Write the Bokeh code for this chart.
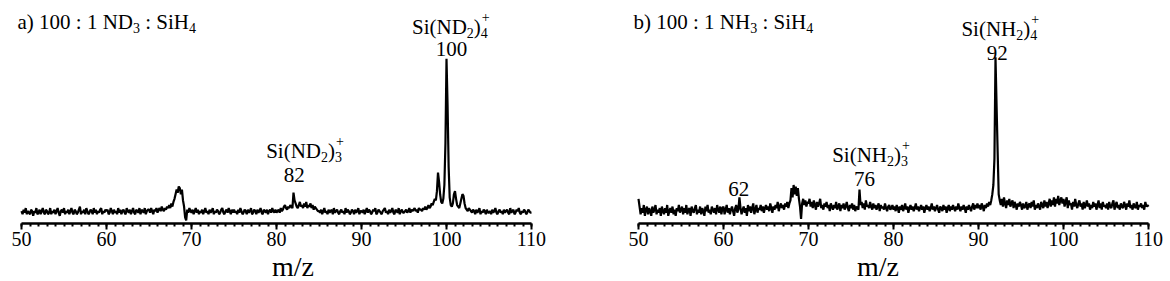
import numpy as np
from bokeh.plotting import figure
from bokeh.layouts import row
from bokeh.models import Range1d, FixedTicker, LinearAxis, Label, Title
from bokeh.embed import file_html
from bokeh.resources import INLINE

# ---------------- data ----------------
mz = np.arange(50, 110.001, 0.125)

int_a = [
    1, -1, 2, 0, 3, -1, 1, 0,        # 50
    -1, 2, 1, -2, 1, 0, 3, -1,       # 51
    0, 2, -1, 1, 3, 0, -1, 2,        # 52
    1, -1, 0, 3, -1, 1, 0, 2,        # 53
    -1, 1, 3, 0, -2, 1, 2, 0,        # 54
    3, -1, 1, 0, 2, -1, 1, 3,        # 55
    0, -1, 2, 1, -1, 0, 2, 4,        # 56
    -1, 1, 0, 2, -1, 3, 1, -1,       # 57
    0, 2, 1, -1, 3, 0, 2, -1,        # 58
    1, 0, 2, 3, -1, 1, 0, 2,         # 59
    1, 2, -1, 0, 3, 1, -1, 2,        # 60
    0, 1, -1, 3, 0, 2, -1, 1,        # 61
    2, 0, -1, 3, 1, 0, 2, -1,        # 62
    1, 3, 0, -1, 2, 1, 0, 3,         # 63
    -1, 2, 1, 0, 3, -1, 1, 2,        # 64
    2, 0, 3, 1, -1, 2, 1, 3,         # 65
    0, 2, 3, 1, 4, 2, 1, 3,          # 66
    2, 4, 3, 5, 3, 6, 4, 7,          # 67
    9, 12, 15, 13, 17, 16, 12, 15,   # 68
    8, 4, -3, -5, 2, 0, 3, 1,        # 69
    0, 2, -1, 1, 3, 0, 2, -1,        # 70
    1, 0, 2, -1, 1, 3, 0, 1,         # 71
    -1, 2, 0, 1, 3, -1, 1, 0,        # 72
    2, 1, -1, 0, 2, 3, 0, -1,        # 73
    1, 2, 0, 3, 1, -1, 2, 0,         # 74
    2, 0, 1, -1, 2, 0, 3, 1,         # 75
    -1, 0, 2, 1, -1, 2, 0, 1,        # 76
    3, -1, 0, 2, 1, -1, 2, 0,        # 77
    1, 3, 0, -1, 2, 1, 0, 2,         # 78
    -1, 1, 2, 0, 3, 1, 0, 2,         # 79
    0, 1, 2, 0, 3, 1, 2, 4,          # 80
    5, 3, 2, 4, 3, 5, 4, 3,          # 81
    13, 8, 6, 4, 3, 5, 7, 4,         # 82
    5, 3, 6, 4, 7, 3, 5, 4,          # 83
    6, 3, 5, 2, 4, 3, 2, 1,          # 84
    1, 0, 2, -1, 1, 3, 0, 1,         # 85
    -1, 2, 0, 1, 2, -1, 3, 0,        # 86
    1, 2, 0, -1, 1, 2, 0, 1,         # 87
    -1, 3, 0, 2, 1, -1, 0, 2,        # 88
    1, -1, 2, 0, 1, 3, -1, 1,        # 89
    1, 0, 2, -1, 1, 3, 0, 2,         # 90
    1, -1, 0, 2, 1, 3, -1, 0,        # 91
    2, 1, 0, -1, 1, 2, 3, 0,         # 92
    1, -1, 2, 0, 1, 3, 0, -1,        # 93
    2, 1, 0, 3, -1, 1, 2, 0,         # 94
    0, 1, 2, 0, 1, 3, 0, 2,          # 95
    1, 2, 3, 1, 2, 0, 3, 2,          # 96
    2, 1, 3, 2, 4, 2, 3, 5,          # 97
    3, 4, 6, 5, 7, 9, 8, 14,         # 98
    26, 20, 12, 7, 6, 9, 18, 45,     # 99
    100, 70, 30, 10, 5, 4, 6, 12,    # 100
    14, 9, 5, 4, 3, 6, 9, 12,        # 101
    11, 6, 3, 2, 1, 3, 2, 1,         # 102
    0, 2, 1, -1, 2, 0, 1, 3,         # 103
    -1, 1, 0, 2, 1, -1, 2, 0,        # 104
    0, 1, -1, 2, 0, 1, 3, 0,         # 105
    -1, 1, 2, 0, 1, -1, 2, 0,        # 106
    1, 2, 0, -1, 3, 0, 1, 2,         # 107
    -1, 0, 2, 1, 3, 0, -1, 1,        # 108
    0, 2, 1, -1, 0, 2, 1, 0,         # 109
    0,                               # 110
]

int_b = [
    9, 4, -1, 3, 0, 5, -2, 2,        # 50
    4, -1, 3, 1, -2, 4, 0, 2,        # 51
    5, -1, 2, 0, 3, -2, 4, 1,        # 52
    -1, 3, 0, 5, -2, 1, 3, 0,        # 53
    4, -1, 2, -2, 3, 1, 5, 0,        # 54
    2, 4, -1, 3, 0, 5, -1, 2,        # 55
    3, -2, 4, 1, 0, 3, 5, -1,        # 56
    2, 0, 4, -1, 3, 1, -2, 4,        # 57
    1, 5, 0, 2, -1, 4, 2, 0,         # 58
    3, -1, 5, 2, 0, 4, -1, 3,        # 59
    4, -1, 2, 5, 0, 3, -1, 2,        # 60
    4, 1, -2, 3, 5, 0, 2, 10,        # 61
    3, -1, 2, 4, 0, 3, -2, 5,        # 62
    1, 4, 0, 3, 6, -1, 2, 5,         # 63
    0, 3, 2, 5, 1, 4, 0, 3,          # 64
    5, 2, 4, 1, 6, 3, 0, 4,          # 65
    2, 5, 3, 7, 1, 4, 6, 3,          # 66
    5, 2, 6, 4, 7, 3, 6, 8,          # 67
    16, 10, 18, 12, 17, 11, 16, 9,   # 68
    4, -4, 6, 9, 5, 8, 4, 7,         # 69
    6, 9, 4, 7, 3, 8, 5, 2,          # 70
    7, 4, 6, 9, 3, 5, 2, 6,          # 71
    4, 7, 3, 5, 1, 6, 4, 2,          # 72
    5, 3, 7, 2, 4, 6, 1, 5,          # 73
    3, 6, 2, 4, 7, 3, 1, 5,          # 74
    3, 6, 2, 5, 1, 4, 3, 2,          # 75
    15, 5, 7, 3, 6, 2, 8, 4,         # 76
    5, 3, 7, 4, 2, 6, 3, 5,          # 77
    2, 4, 6, 1, 5, 3, 4, 2,          # 78
    6, 3, 1, 4, 5, 2, 3, 5,          # 79
    2, 4, 1, 5, 3, 0, 4, 2,          # 80
    5, 1, 3, 6, 2, 4, 0, 3,          # 81
    5, 2, 4, 1, 3, 6, 2, 4,          # 82
    1, 3, 5, 2, 4, 0, 3, 5,          # 83
    2, 4, 1, 3, 6, 2, 4, 1,          # 84
    3, 5, 2, 0, 4, 3, 1, 5,          # 85
    2, 4, 0, 3, 5, 1, 4, 2,          # 86
    5, 3, 1, 4, 2, 6, 3, 1,          # 87
    4, 2, 5, 3, 0, 4, 2, 5,          # 88
    3, 1, 4, 6, 2, 5, 3, 6,          # 89
    3, 5, 2, 6, 4, 1, 5, 3,          # 90
    6, 4, 7, 5, 8, 12, 18, 35,       # 91
    101, 70, 40, 12, 8, 5, 9, 4,     # 92
    10, 6, 3, 8, 5, 9, 4, 6,         # 93
    8, 3, 7, 5, 2, 6, 4, 7,          # 94
    5, 2, 6, 3, 4, 7, 2, 5,          # 95
    6, 3, 7, 4, 8, 2, 5, 3,          # 96
    6, 4, 2, 7, 5, 3, 8, 4,          # 97
    7, 3, 6, 9, 4, 8, 5, 10,         # 98
    4, 9, 6, 11, 5, 8, 10, 6,        # 99
    9, 4, 7, 10, 3, 8, 5, 6,         # 100
    2, 7, 4, 9, 5, 3, 6, 8,          # 101
    4, 6, 2, 7, 3, 5, 8, 4,          # 102
    6, 2, 5, 3, 7, 4, 6, 2,          # 103
    5, 8, 3, 6, 2, 7, 4, 5,          # 104
    3, 6, 2, 7, 4, 3, 6, 8,          # 105
    2, 5, 7, 3, 5, 2, 6, 4,          # 106
    3, 7, 5, 2, 6, 4, 8, 3,          # 107
    5, 2, 6, 4, 3, 7, 2, 5,          # 108
    4, 6, 3, 5, 2, 7, 4, 5,          # 109
    4,                               # 110
]

major_ticks = [50, 60, 70, 80, 90, 100, 110]
minor_ticks = list(range(50, 111))
x_label = "m/z"

NB = "\u00a0"
# title / peak annotations: (m/z, intensity, segments)
title_a = [(f"a){NB}100{NB}:{NB}1{NB}ND", "n"), ("3", "sub"), (f"{NB}:{NB}SiH", "n"), ("4", "sub")]
title_b = [(f"b){NB}100{NB}:{NB}1{NB}NH", "n"), ("3", "sub"), (f"{NB}:{NB}SiH", "n"), ("4", "sub")]
labels_a = [
    (100.45, 120.9, [("Si(ND", "n"), ("2", "sub"), (")", "n"), (("4", "+"), "subsup")]),
    (100.6, 106.0, [("100", "n")]),
    (83.3, 39.8, [("Si(ND", "n"), ("2", "sub"), (")", "n"), (("3", "+"), "subsup")]),
    (82.1, 24.2, [("82", "n")]),
]
labels_b = [
    (92.5, 119.6, [("Si(NH", "n"), ("2", "sub"), (")", "n"), (("4", "+"), "subsup")]),
    (92.2, 103.4, [("92", "n")]),
    (77.3, 37.8, [("Si(NH", "n"), ("2", "sub"), (")", "n"), (("3", "+"), "subsup")]),
    (76.6, 21.6, [("76", "n")]),
    (61.8, 15.7, [("62", "n")]),
]

# ---------------- layout constants ----------------
W, H = 585, 281
FRAME_H = 223
PX_X = 8.5
PX_Y = 1.54
Y0 = -7.0
Y1 = Y0 + FRAME_H / PX_Y
FONT = "Liberation Serif"
MAIN, SMALL = 21, 14

EM = {'S': .556, 'i': .278, '(': .333, ')': .333, 'N': .722, 'D': .722, 'H': .722,
      '+': .564, ' ': .25, NB: .25, ':': .278, 'a': .444, 'b': .5}


def text_w(t, size):
    return sum(EM.get(c, .5) for c in t) * size


def rich(p, x, y, segs, align="center"):
    pieces = []
    w = 0.0
    for t, kind in segs:
        if kind == "n":
            pieces.append((t, MAIN, w, 0))
            w += text_w(t, MAIN)
        elif kind == "sub":
            pieces.append((t, SMALL, w, 6))
            w += text_w(t, SMALL)
        else:
            s, u = t
            pieces.append((s, SMALL, w, 6))
            pieces.append((u, SMALL, w + 1, -10))
            w += max(text_w(s, SMALL), text_w(u, SMALL))
    start = -w / 2 if align == "center" else 0
    for t, size, off, yoff in pieces:
        p.add_layout(Label(x=x + (start + off) / PX_X, y=y - yoff / PX_Y, text=t,
                           text_font=FONT, text_font_size=f"{size}px",
                           text_color="black", text_align="left",
                           text_baseline="alphabetic"))


def make(ints, left, title, title_x, labels, xlab_center):
    x0 = 50 - left / PX_X
    p = figure(width=W, height=H, x_range=Range1d(x0, x0 + W / PX_X),
               y_range=Range1d(Y0, Y1),
               output_backend="svg", toolbar_location=None,
               x_axis_location=None, y_axis_location=None,
               min_border_left=0, min_border_right=0,
               min_border_top=0, min_border_bottom=H - FRAME_H)
    p.outline_line_color = None
    p.grid.visible = False
    p.background_fill_color = "white"
    p.border_fill_color = "white"
    ax = LinearAxis(ticker=FixedTicker(ticks=major_ticks, minor_ticks=minor_ticks),
                    bounds=(50, 110))
    ax.axis_line_width = 2.5
    ax.axis_line_color = "black"
    ax.major_tick_in = 0
    ax.major_tick_out = 6
    ax.major_tick_line_width = 2
    ax.minor_tick_in = 0
    ax.minor_tick_out = 3
    ax.minor_tick_line_width = 2
    ax.major_label_text_font = FONT
    ax.major_label_text_font_size = "20px"
    ax.major_label_text_color = "black"
    ax.major_label_standoff = 2
    p.add_layout(ax, "below")

    p.line(mz, ints, line_color="black", line_width=2.2)

    rich(p, title_x, 123.6, title, align="left")
    for x, y, segs in labels:
        rich(p, x, y, segs)
    center_px = left + (xlab_center - 50) * PX_X
    p.add_layout(Title(text=x_label, align="center", offset=center_px - W / 2,
                       text_font=FONT, text_font_size="28px", text_font_style="normal",
                       text_color="black", standoff=0), "below")
    return p


assert len(int_a) == len(mz) and len(int_b) == len(mz)
p1 = make(int_a, 21, title_a, 49.53, labels_a, 73.2)
p2 = make(int_b, 53, title_b, 49.41, labels_b, 75.1)
p = row(p1, p2)

open("out.html", "w").write(file_html(p, INLINE))
